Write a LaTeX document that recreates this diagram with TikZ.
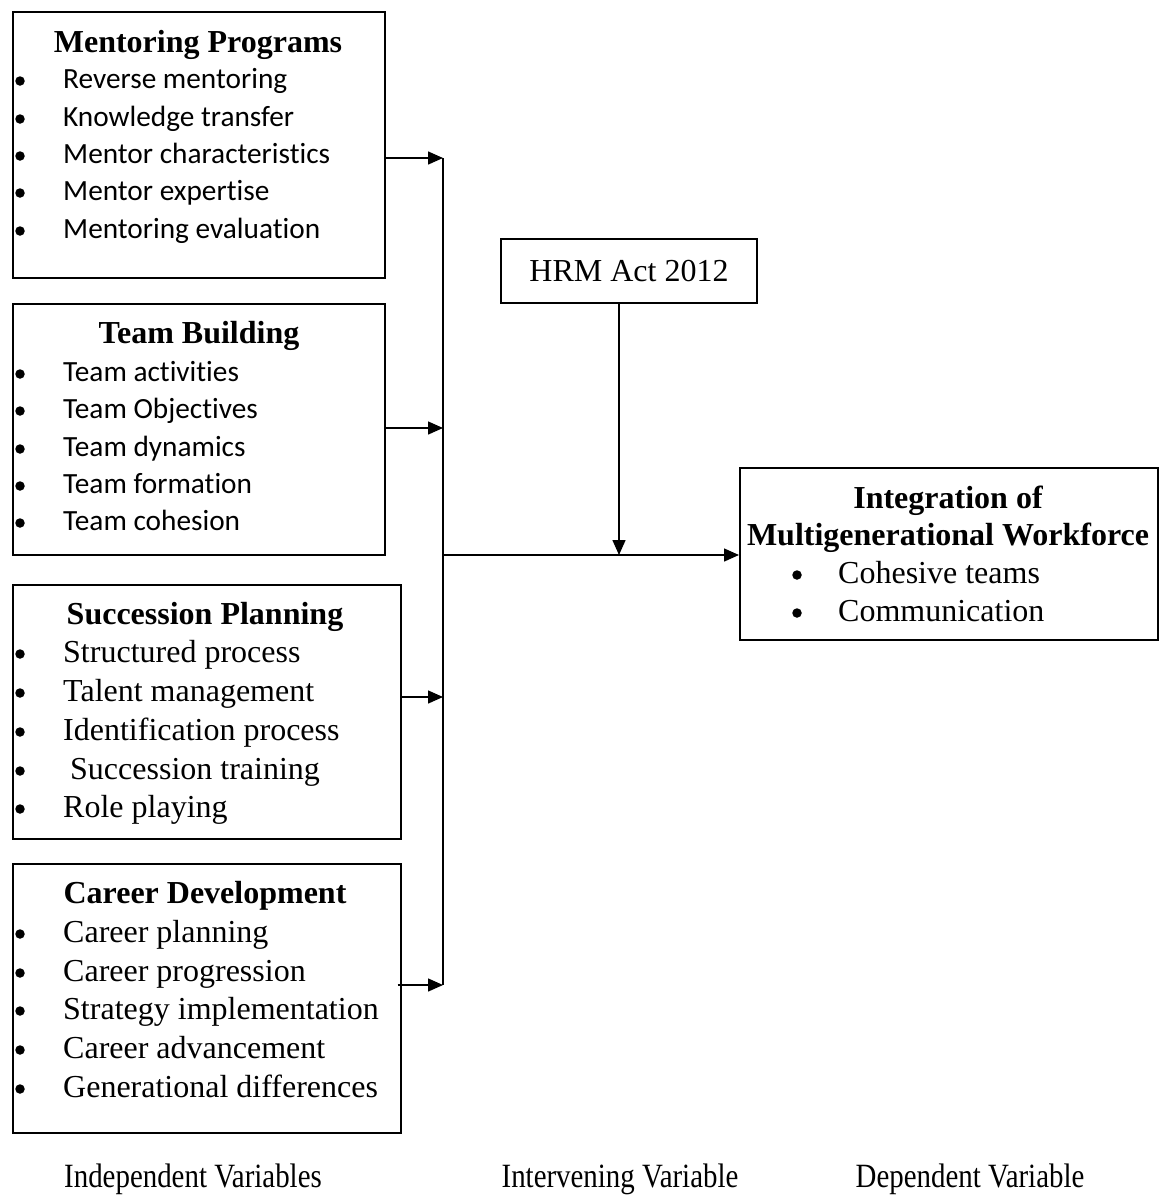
\documentclass[tikz,border=0pt]{standalone}
\usepackage{fontspec}
\usepackage{graphicx}
\setmainfont{Liberation Serif}
\newfontfamily\calibrifont[Ligatures=CommonOff]{Carlito}
\usetikzlibrary{arrows.meta}
\begin{document}
\begin{tikzpicture}[x=1pt,y=-1pt,
  box/.style={draw, line width=1.5pt, rectangle, inner sep=0pt, anchor=north west},
  hd/.style={anchor=base, inner sep=0pt, font=\fontsize{32}{38}\selectfont\bfseries},
  it/.style={anchor=base west, inner sep=0pt, font=\fontsize{32}{38}\selectfont},
  its/.style={anchor=base west, inner sep=0pt, font=\calibrifont\fontsize{29.3}{35}\selectfont},
  dot/.style={circle, fill, inner sep=0pt, minimum size=9.5pt},
  arr/.style={line width=1.5pt, -{Triangle[length=15pt,width=13pt]}},
  ln/.style={line width=1.5pt},
  lab/.style={anchor=base, inner sep=0pt, font=\fontsize{34}{40}\selectfont}
]
\useasboundingbox (0,0) rectangle (1160,1203);

% boxes
\node[box, minimum width=372pt, minimum height=266pt] (b1) at (12,11) {};
\node[box, minimum width=372pt, minimum height=251pt] (b2) at (12,303) {};
\node[box, minimum width=388pt, minimum height=254pt] (b3) at (12,584) {};
\node[box, minimum width=388pt, minimum height=269pt] (b4) at (12,863) {};
\node[box, anchor=center, minimum width=256pt, minimum height=64pt,
      font=\fontsize{32}{38}\selectfont] (hrm) at (629,271) {HRM Act 2012};
\node[box, minimum width=418pt, minimum height=172pt] (dep) at (739,467) {};

% box 1
\node[hd] (h1) at (198,52) {Mentoring Programs};
\foreach \t/\y [count=\i] in {Reverse mentoring/88, Knowledge transfer/126,
  Mentor characteristics/163, Mentor expertise/200, Mentoring evaluation/238}{
  \node[dot] (d1\i) at (20,\y-7) {};
  \node[its] (t1\i) at (63,\y) {\t};
}
% box 2
\node[hd] (h2) at (199,343) {Team Building};
\foreach \t/\y [count=\i] in {Team activities/381, Team Objectives/418,
  Team dynamics/456, Team formation/493, Team cohesion/530}{
  \node[dot] (d2\i) at (20,\y-7) {};
  \node[its] (t2\i) at (63,\y) {\t};
}
% box 3
\node[hd] (h3) at (205,624) {Succession Planning};
\foreach \t/\y/\x [count=\i] in {Structured process/662/63, Talent management/701/63,
  Identification process/740/63, Succession training/779/70, Role playing/817/63}{
  \node[dot] (d3\i) at (20,\y-8) {};
  \node[it] (t3\i) at (\x,\y) {\t};
}
% box 4
\node[hd] (h4) at (205,903) {Career Development};
\foreach \t/\y [count=\i] in {Career planning/942, Career progression/981,
  Strategy implementation/1019, Career advancement/1058, Generational differences/1097}{
  \node[dot] (d4\i) at (20,\y-8) {};
  \node[it] (t4\i) at (63,\y) {\t};
}
% dependent box
\node[hd] (h5a) at (948,508) {Integration of};
\node[hd] (h5b) at (948,545) {Multigenerational Workforce};
\node[dot] (d51) at (797,575) {};
\node[it] (t51) at (838,583) {Cohesive teams};
\node[dot] (d52) at (797,613) {};
\node[it] (t52) at (838,621) {Communication};

% connectors
\coordinate (j1) at (443,158);
\coordinate (j2) at (443,428);
\coordinate (j3) at (443,697);
\coordinate (j4) at (443,985);
\coordinate (jm) at (443,555);
\coordinate (ha) at (619,303);
\draw[ln] (j1) -- (j4);
\draw[arr] (b1.east |- j1) -- (j1);
\draw[arr] (b2.east |- j2) -- (j2);
\draw[arr] (b3.east |- j3) -- (j3);
\draw[arr] ([xshift=-4pt]b4.east |- j4) -- (j4);
\draw[arr] (jm) -- (jm -| dep.west);
\draw[arr] (ha) -- (ha |- jm);

% labels
\node[lab] (l1) at (193,1187) {\scalebox{0.85}[1]{Independent Variables}};
\node[lab] (l2) at (620,1187) {\scalebox{0.85}[1]{Intervening Variable}};
\node[lab] (l3) at (970,1187) {\scalebox{0.85}[1]{Dependent Variable}};
\end{tikzpicture}
\end{document}
